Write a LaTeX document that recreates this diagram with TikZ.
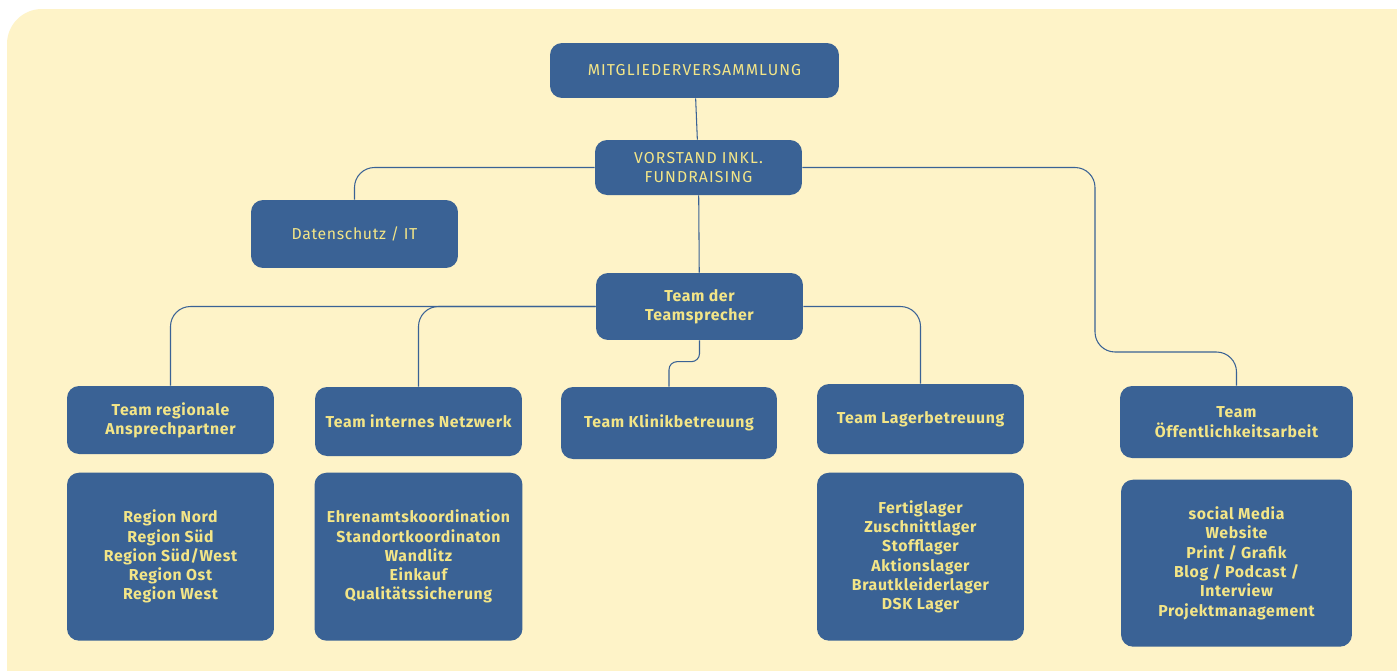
\documentclass[tikz,border=0pt]{standalone}
\usepackage{fontspec}
\setmainfont{Fira Sans}
\newfontfamily\spaced[LetterSpace=7]{Fira Sans}
\newfontfamily\plain[LetterSpace=4]{Fira Sans}
\newfontfamily\teamfont[LetterSpace=4]{Fira Sans}
\usepackage{xcolor}
\usepackage{tikz}
\usetikzlibrary{shapes,arrows,positioning}
\usetikzlibrary{calc}
\definecolor{boxblue}{RGB}{58,98,149}
\definecolor{textyellow}{RGB}{243,229,135}
\definecolor{bgyellow}{RGB}{254,243,200}
\tikzstyle{box} = [rectangle, fill=boxblue, text=textyellow, align=center,
    rounded corners=0.24cm, minimum width=4.14cm, inner sep=2pt]
\tikzstyle{head} = [box, font=\spaced\fontsize{9}{11.2}\selectfont]
\tikzstyle{team} = [box, font=\teamfont\bfseries\fontsize{9}{11}\selectfont]
\tikzstyle{line} = [draw=boxblue, line width=0.6pt, rounded corners=0.4cm]

\begin{document}
\begin{tikzpicture}[x=0.02cm, y=-0.02cm]
        % Background
        \clip (0,0) rectangle (1397,670);
        \fill [white] (0,0) rectangle (1397,670);
        \fill [bgyellow, rounded corners=0.7cm] (7,9) rectangle (1440,720);

        % Components
        \node [head, minimum width=5.78cm, minimum height=1.1cm] (mv) at (694.5,70.5) {MITGLIEDERVERSAMMLUNG};
        \node [head, minimum height=1.1cm] (vorstand) at (698.5,167.5) {VORSTAND INKL.\\FUNDRAISING};
        \node [head, font=\plain\fontsize{9}{11}\selectfont, minimum height=1.36cm] (datenschutz) at (354.5,234) {Datenschutz / IT};
        \node [team, minimum height=1.34cm] (sprecher) at (699.5,306.5) {Team der\\Teamsprecher};
        \node [team, minimum height=1.36cm] (regional) at (170.5,420) {Team regionale\\Ansprechpartner};
        \node [team, minimum height=1.38cm] (netzwerk) at (418.5,421.5) {Team internes Netzwerk};
        \node [team, minimum width=4.32cm, minimum height=1.44cm] (klinik) at (669,423) {Team Klinikbetreuung};
        \node [team, minimum height=1.4cm] (lager) at (920.5,419) {Team Lagerbetreuung};
        \node [team, minimum width=4.66cm, minimum height=1.44cm] (oeff) at (1236.5,422) {Team\\Öffentlichkeitsarbeit};

        % Details
        \node [team, minimum height=3.36cm, below=0.36cm of regional] (regionen)
            {Region Nord\\Region Süd\\Region Süd/West\\Region Ost\\Region West};
        \node [team, minimum width=4.16cm, minimum height=3.36cm, below=0.32cm of netzwerk] (aufgaben)
            {Ehrenamtskoordination\\Standortkoordinaton\\Wandlitz\\Einkauf\\Qualitätssicherung};
        \node [team, minimum height=3.36cm, below=0.36cm of lager] (lagerorte)
            {Fertiglager\\Zuschnittlager\\Stofflager\\Aktionslager\\Brautkleiderlager\\DSK Lager};
        \node [team, minimum width=4.62cm, minimum height=3.34cm, below=0.42cm of oeff] (medien)
            {social Media\\Website\\Print / Grafik\\Blog / Podcast /\\Interview\\Projektmanagement};

        % Connections
        \path [line] (mv) -- (vorstand);
        \path [line] (vorstand.west) -| (datenschutz.north);
        \path [line] (vorstand.east) -| (1095,352) -| (oeff.north);
        \path [line] (vorstand) -- (sprecher);
        \path [line] (sprecher.west) -| (regional.north);
        \path [line] (sprecher.west) -| (netzwerk.north);
        \path [line, rounded corners=0.16cm] (sprecher.south) |- ($(klinik.north)+(0,-25)$) -- (klinik.north);
        \path [line] (sprecher.east) -| (lager.north);
    \end{tikzpicture}
\end{document}
